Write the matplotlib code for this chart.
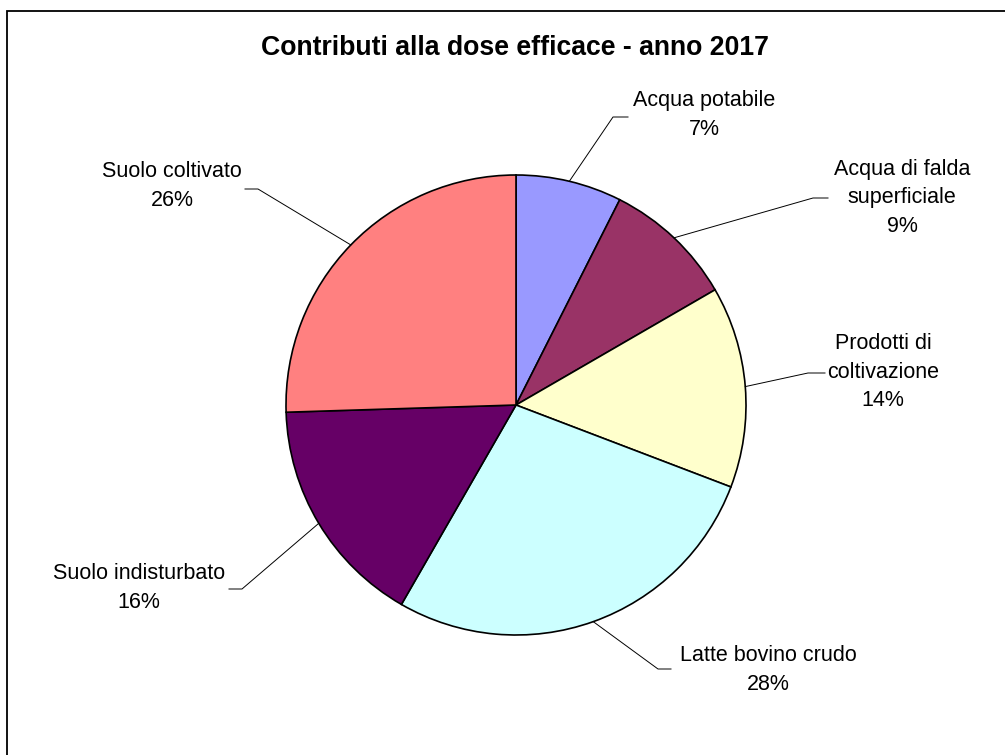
"""
Pie chart: contributi alla dose efficace, anno 2017.
"""

import matplotlib
matplotlib.use("Agg")
import matplotlib.pyplot as plt
import numpy as np

# %% Data

categories = [
    "Acqua potabile",
    "Acqua di falda\nsuperficiale",
    "Prodotti di\ncoltivazione",
    "Latte bovino crudo",
    "Suolo indisturbato",
    "Suolo coltivato",
]
shares = [7.45, 9.2, 14.15, 27.5, 16.2, 25.5]
pct_labels = ["7%", "9%", "14%", "28%", "16%", "26%"]
colors = ["#9999FF", "#993366", "#FFFFCC", "#CCFFFF", "#660066", "#FF8080"]

# %% Layout (pixel coordinates, y measured from the top)

W, H = 1005, 755
center_px = (516, 405)
radius = 230
label_pos = [(704, 115), (902, 198), (883, 372), (768, 670), (139, 588), (172, 186)]
elbows = [(613, 117), (813, 198), (808, 373), (658, 669), (242, 589), (258, 189)]
ends = [(628, 117), (828, 198), (825, 373), (671, 669), (229, 589), (245, 189)]

plt.rcParams["font.family"] = ["Liberation Sans", "DejaVu Sans"]

fig = plt.figure(figsize=(W / 100, H / 100), dpi=100)
ax = fig.add_axes([0, 0, 1, 1])


def fy(y):
    return H - y


cx, cy = center_px[0], fy(center_px[1])
wedges, _ = ax.pie(
    shares,
    colors=colors,
    startangle=90,
    counterclock=False,
    center=(cx, cy),
    radius=radius,
    wedgeprops=dict(edgecolor="black", linewidth=1.2),
    frame=True,
)
ax.set_xlim(0, W)
ax.set_ylim(0, H)
ax.set_aspect("equal")
ax.axis("off")

# leader lines from the middle of each wedge edge
for w, (ex, ey), (tx, ty) in zip(wedges, elbows, ends):
    mid = np.radians((w.theta1 + w.theta2) / 2)
    px = cx + radius * np.cos(mid)
    py = cy + radius * np.sin(mid)
    ax.plot([px, ex, tx], [py, fy(ey), fy(ty)], color="black", linewidth=0.7)

for name, pct, (lx, ly) in zip(categories, pct_labels, label_pos):
    ax.text(lx, fy(ly), f"{name}\n{pct}", ha="center", va="center",
            multialignment="center", fontsize=15.5, linespacing=1.45)

ax.text(515, fy(48), "Contributi alla dose efficace - anno 2017",
        ha="center", va="center", fontsize=19.2, fontweight="bold")

# chart frame (right and bottom edges fall outside the picture)
ax.plot([7, 7, W + 5], [fy(H + 5), fy(11), fy(11)], color="black",
        linewidth=1.3, solid_joinstyle="miter")

fig.savefig("out.png", dpi=100)
